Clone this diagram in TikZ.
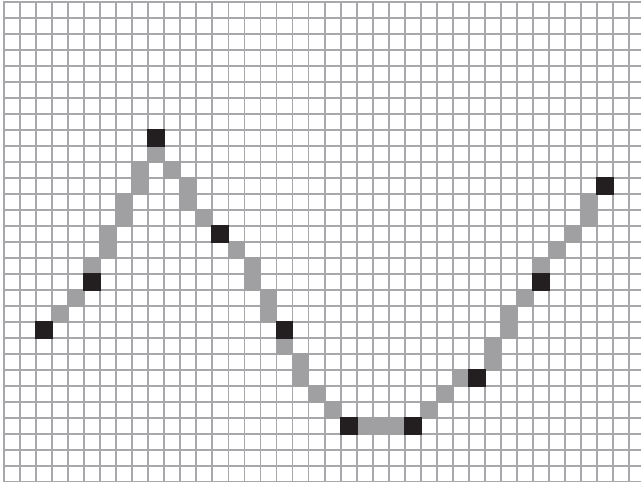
\documentclass[tikz,border=0pt]{standalone}
\definecolor{gridgray}{RGB}{168,168,172}
\definecolor{cellgray}{RGB}{160,160,163}
\definecolor{cellblack}{RGB}{35,31,32}
\tikzset{
  gridline/.style={gridgray,line width=1.8pt},
  graycell/.style={fill=cellgray},
  blackcell/.style={fill=cellblack}
}
\newcommand{\gx}[1]{(4+16.03*(#1))}
\newcommand{\gy}[1]{(1.7+16.02*(#1))}
\begin{document}
\begin{tikzpicture}[x=1pt,y=-1pt]
\useasboundingbox (0,0) rectangle (641,482);
\clip (0,0) rectangle (641,482);
\fill[white] (0,0) rectangle (641,482);
% grid
\foreach \i in {0,...,40} \draw[gridline] ({4+16.03*\i},0.8) -- ({4+16.03*\i},500);
\foreach \j in {0,...,30} \draw[gridline] (3.1,{1.7+16.02*\j}) -- (660,{1.7+16.02*\j});
% gray cells of the polyline
\foreach \i/\j in {3/19,4/18,
  5/16,6/15,6/14,7/13,7/12,8/11,8/10,9/9,
  10/10,11/11,11/12,12/13,
  14/15,15/16,15/17,16/18,16/19,
  17/21,18/22,18/23,19/24,20/25,
  22/26,23/26,24/26,
  26/25,27/24,28/23,
  30/22,30/21,31/20,31/19,32/18,
  33/16,34/15,35/14,36/13,36/12}
  \fill[graycell] ({4+16.03*\i-0.9},{1.7+16.02*\j-0.9}) rectangle ({4+16.03*(\i+1)+0.9},{1.7+16.02*(\j+1)+0.9});
% black vertices
\foreach \i/\j in {2/20,5/17,9/8,13/14,17/20,21/26,25/26,29/23,33/17,37/11}
  \fill[blackcell] ({4+16.03*\i-0.9},{1.7+16.02*\j-0.9}) rectangle ({4+16.03*(\i+1)+0.9},{1.7+16.02*(\j+1)+0.9});
\end{tikzpicture}
\end{document}
